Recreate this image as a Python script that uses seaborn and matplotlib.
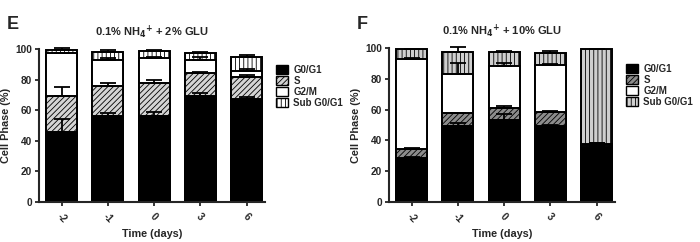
import numpy as np
import pandas as pd
import matplotlib
matplotlib.use("Agg")
import matplotlib.pyplot as plt
import seaborn as sns
from matplotlib.patches import Patch

days = ["-2", "-1", "0", "3", "6"]
phases = ["G0/G1", "S", "G2/M", "Sub G0/G1"]

# Panel E: 0.1% NH4+ + 2% GLU
e_g0g1 = [46, 56, 56.5, 69, 67]
e_s = [23, 19.5, 21.5, 15.5, 14.5]
e_g2m = [28, 17.5, 16, 8.5, 4]
e_sub = [2.5, 5, 4.5, 4.5, 9]
e_err_g0g1 = [8, 2, 2.5, 2, 1.5]
e_err_s = [6, 2, 1.5, 0.5, 1.5]
e_err_g2m = [0.5, 1, 1, 1.5, 1.5]
e_err_sub = [1, 1, 0.5, 0.5, 1.5]

# Panel F: 0.1% NH4+ + 10% GLU
f_g0g1 = [28.5, 49.5, 53.5, 49.5, 36]
f_s = [6, 8, 7.5, 9, 1]
f_g2m = [58, 25.5, 27.5, 30.5, 0.5]
f_sub = [6.5, 14.5, 9, 8, 61.5]
f_err_g0g1 = [0.5, 1.5, 3.5, 0.5, 1.5]
f_err_s = [0.5, 0.5, 1, 0.3, 1]
f_err_g2m = [1, 7.5, 1.5, 0.5, 0.5]
f_err_sub = [0.3, 3, 0.3, 1, 0.5]

sns.set_style("ticks")
plt.rcParams["font.family"] = ["Liberation Sans", "DejaVu Sans"]
plt.rcParams["font.weight"] = "bold"
plt.rcParams["hatch.linewidth"] = 0.6

fig = plt.figure(figsize=(7.0, 2.42), dpi=100)
axE = fig.add_axes([0.0557, 0.165, 0.323, 0.633])
axF = fig.add_axes([0.5557, 0.165, 0.323, 0.637])


def draw(ax, vals, errs, styles, title, letter, letter_x):
    cum = np.cumsum(np.array(vals), axis=0)
    # draw from the top layer down so lower layers cover upper ones
    for i in range(len(phases) - 1, -1, -1):
        df = pd.DataFrame({"day": days, "top": cum[i]})
        fc, hatch = styles[i]
        sns.barplot(data=df, x="day", y="top", ax=ax, color=fc, saturation=1,
                    width=0.67, edgecolor="black", linewidth=1.4,
                    hatch=hatch, errorbar=None, zorder=2)
    for i in range(len(phases)):
        err = np.array(errs[i])
        ax.errorbar(np.arange(len(days)), cum[i],
                    yerr=[np.zeros_like(err), err], fmt="none",
                    ecolor="black", elinewidth=1.3, capsize=5.5,
                    capthick=1.3, zorder=5, clip_on=False)
    ax.set_ylim(0, 100)
    ax.set_xlim(-0.49, 4.4)
    ax.set_yticks([0, 20, 40, 60, 80, 100])
    ax.set_ylabel("Cell Phase (%)", fontsize=7.8, fontweight="bold", labelpad=3)
    ax.set_xlabel("Time (days)", fontsize=7.8, fontweight="bold", labelpad=2.5)
    ax.tick_params(axis="both", labelsize=7.3, width=1.3, length=3, pad=2)
    ax.tick_params(axis="x", pad=4)
    for lab in ax.get_xticklabels():
        lab.set_rotation(-45)
        lab.set_ha("center")
        lab.set_fontweight("bold")
    for lab in ax.get_yticklabels():
        lab.set_fontweight("bold")
    for s in ["left", "bottom"]:
        ax.spines[s].set_linewidth(1.5)
    sns.despine(ax=ax)
    ax.set_title(title, fontsize=8, fontweight="bold", pad=9)
    fig.text(letter_x, 0.9, letter, fontsize=13, fontweight="bold",
             ha="left", va="center")
    handles = [Patch(facecolor=styles[i][0], edgecolor="black",
                     hatch=styles[i][1], linewidth=1.0, label=phases[i])
               for i in range(len(phases))]
    ax.legend(handles=handles, loc="upper left", bbox_to_anchor=(1.03, 0.92),
              frameon=False, fontsize=7, handlelength=1.3, handleheight=1.0,
              handletextpad=0.5, labelspacing=0.1, borderaxespad=0)


stylesE = [("black", None), ("#d4d4d4", "//////"), ("white", None), ("white", "||||")]
stylesF = [("black", None), ("#8c8c8c", "//////"), ("white", None), ("#cfcfcf", "||||")]

draw(axE, [e_g0g1, e_s, e_g2m, e_sub],
     [e_err_g0g1, e_err_s, e_err_g2m, e_err_sub], stylesE,
     "0.1% NH$_4$$^{+}$ + 2% GLU", "E", 0.01)
draw(axF, [f_g0g1, f_s, f_g2m, f_sub],
     [f_err_g0g1, f_err_s, f_err_g2m, f_err_sub], stylesF,
     "0.1% NH$_4$$^{+}$ + 10% GLU", "F", 0.51)

fig.savefig("out.png", dpi=100)
